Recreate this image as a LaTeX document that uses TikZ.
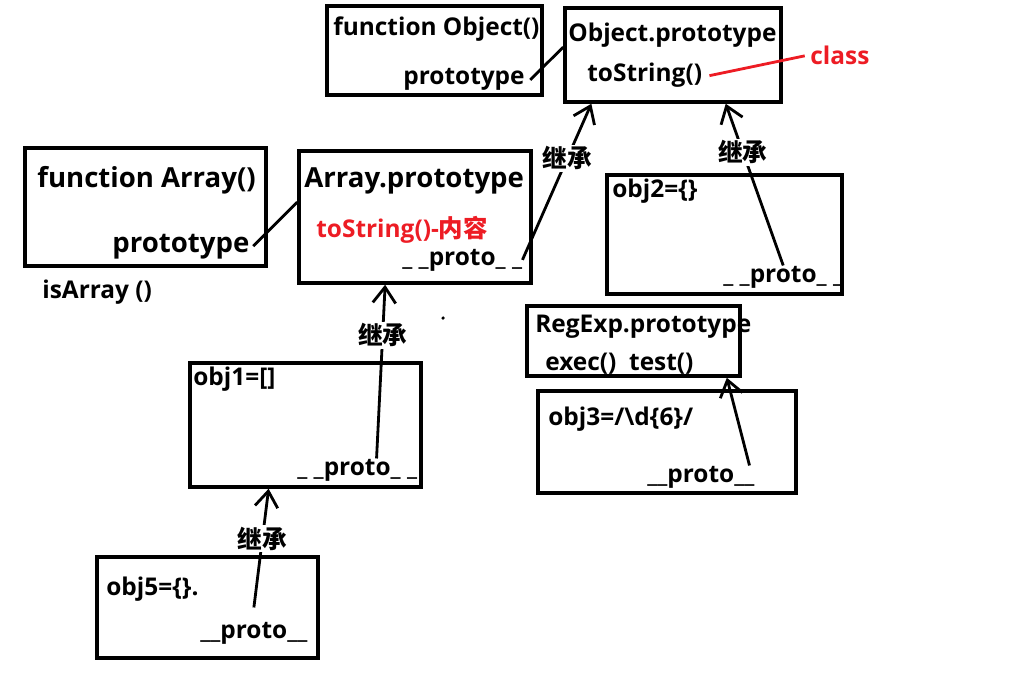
\documentclass[tikz,border=0pt]{standalone}
\usepackage{fontspec}
\setmainfont{Open Sans}
\newfontfamily\cjk{Noto Sans CJK SC}
\usetikzlibrary{arrows.meta, fit}
\definecolor{paintred}{HTML}{ED1C24}

\begin{document}
\begin{tikzpicture}[x=0.02cm, y=-0.02cm,
    box/.style={draw, line width=2pt, inner sep=0pt},
    txt/.style={anchor=base west, inner sep=0pt, font=\bfseries\fontsize{13.9}{16}\selectfont},
    bigtxt/.style={txt, font=\bfseries\fontsize{15.7}{18}\selectfont},
    redtxt/.style={txt, text=paintred},
    link/.style={line width=1.6pt},
    inherit/.style={line width=1.6pt, -{Straight Barb[length=9pt, width=13pt]}},
    jicheng/.style={fill=white, inner sep=1pt, font=\cjk\bfseries\fontsize{14}{16}\selectfont},
  ]
  \useasboundingbox (0,0) rectangle (1016,699);
  % boxes
  \node[box, fit={(327,6) (542,95)}]    (fnObj) {};
  \node[box, fit={(565,8) (781,102)}]   (objP) {};
  \node[box, fit={(25,148) (266,266)}]  (fnArr) {};
  \node[box, fit={(299,151) (531,283)}] (arrP) {};
  \node[box, fit={(607,175) (842,294)}] (o2) {};
  \node[box, fit={(527,306) (740,376)}] (regP) {};
  \node[box, fit={(538,391) (796,493)}] (o3) {};
  \node[box, fit={(190,363) (421,487)}] (o1) {};
  \node[box, fit={(97,557) (318,658)}]  (o5) {};
  % texts
  \node[txt] (tFO)  at (333,36)  {function Object()};
  \node[txt] (tFOp) at (403,85)  {prototype};
  \node[txt] (tO)   at (568,42)  {Object.prototype};
  \node[txt] (tOt)  at (587,82)  {toString()};
  \node[redtxt] (cls) at (810,65) {class};
  \node[bigtxt] (tFA)  at (37,188)  {function Array()};
  \node[bigtxt] (tFAp) at (112,252) {prototype};
  \node[txt] (tIs)  at (42,298)  {isArray ()};
  \node[bigtxt] (tA) at (304,188) {Array.prototype};
  \node[redtxt] (tAt) at (316,237) {toString()-{\cjk 内容}};
  \node[txt] (tAp)  at (402,265) {\_\ \_proto\_\ \_};
  \node[txt] (t2)   at (612,197) {obj2=\{\}};
  \node[txt] (t2p)  at (723,282) {\_\ \_proto\_\ \_};
  \node[txt] (tR)   at (535,332) {RegExp.prototype};
  \node[txt] (tRm)  at (545,370) {exec()\ \ test()};
  \node[txt] (t3)   at (548,425) {obj3=/\textbackslash d\{6\}/};
  \node[txt] (t3p)  at (647,482) {\_\_proto\_\_};
  \node[txt] (t1)   at (193,385) {obj1=[]};
  \node[txt] (t1p)  at (297,475) {\_\ \_proto\_\ \_};
  \node[txt] (t5)   at (106,595) {obj5=\{\}.};
  \node[txt] (t5p)  at (200,638) {\_\_proto\_\_};
  % links
  \draw[link] ([xshift=3pt]tFOp.east) -- ([yshift=4.5pt]objP.west);
  \draw[link] ([xshift=2pt]tFAp.east) -- ([yshift=8.5pt]arrP.west);
  \draw[link, paintred] ([xshift=4pt]tOt.east) -- ([xshift=-3pt]cls.west);
  % inheritance
  \draw[inherit] (tAp.east) -- ([xshift=16pt]objP.south west)
    node[jicheng, pos=0.65] (j1) {继承};
  \draw[inherit] (t2p.north) -- ([xshift=30pt]objP.south)
    node[jicheng, pos=0.7] (j2) {继承};
  \draw[inherit] ([xshift=-3pt]t3p.north east) -- ([xshift=-8.5pt]regP.south east);
  \draw[inherit] ([xshift=11pt]t1p.north) -- ([xshift=-17pt]arrP.south)
    node[jicheng, pos=0.71] (j3) {继承};
  \draw[inherit] ([yshift=8pt]t5p.north) -- ([xshift=-21pt]o1.south)
    node[jicheng, pos=0.58] (j4) {继承};
  \fill (443,318) circle (1pt);
\end{tikzpicture}
\end{document}
